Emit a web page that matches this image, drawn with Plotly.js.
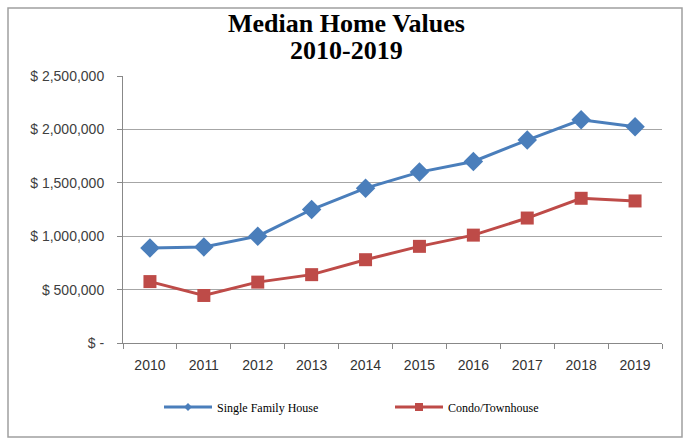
<!DOCTYPE html>
<html>
<head>
<meta charset="utf-8">
<script src="https://cdn.plot.ly/plotly-3.0.1.min.js"></script>
<style>
  html, body { margin: 0; padding: 0; background: #ffffff; }
  #chart { width: 689px; height: 439px; }
</style>
</head>
<body>
<div id="chart"></div>
<script>
const years = ['2010','2011','2012','2013','2014','2015','2016','2017','2018','2019'];
const singleFamily = [890000, 900000, 1000000, 1250000, 1450000, 1600000, 1700000, 1900000, 2090000, 2025000];
const condoTownhouse = [575000, 445000, 570000, 640000, 780000, 905000, 1010000, 1170000, 1355000, 1330000];
const yTickVals = [0, 500000, 1000000, 1500000, 2000000, 2500000];
const yTickText = ['$ -', '$ 500,000', '$ 1,000,000', '$ 1,500,000', '$ 2,000,000', '$ 2,500,000'];
const seriesNames = ['Single Family House', 'Condo/Townhouse'];
const titleLines = ['Median Home Values', '2010-2019'];

const blue = '#4a7ebb', red = '#be4b48';

const traces = [
  {
    x: years, y: singleFamily, name: seriesNames[0], showlegend: false,
    type: 'scatter', mode: 'lines+markers',
    line: { color: blue, width: 3 },
    marker: { symbol: 'diamond', size: 15, color: blue }
  },
  {
    x: years, y: condoTownhouse, name: seriesNames[1], showlegend: false,
    type: 'scatter', mode: 'lines+markers',
    line: { color: red, width: 3 },
    marker: { symbol: 'square', size: 13, color: red }
  },
  // legend-only entries with small markers, as in the reference
  {
    x: [null], y: [null], name: seriesNames[0],
    type: 'scatter', mode: 'lines+markers',
    line: { color: blue, width: 3 },
    marker: { symbol: 'diamond', size: 6, color: blue }
  },
  {
    x: [null], y: [null], name: seriesNames[1],
    type: 'scatter', mode: 'lines+markers',
    line: { color: red, width: 3 },
    marker: { symbol: 'square', size: 8, color: red }
  }
];

const titleFont = { family: 'Liberation Serif, serif', size: 26, color: '#000000', weight: 'bold' };
const titleX = (346 - 123) / 539;

const layout = {
  width: 689, height: 439,
  margin: { l: 123, r: 27, t: 76, b: 96 },
  paper_bgcolor: '#ffffff', plot_bgcolor: '#ffffff',
  xaxis: {
    type: 'category',
    tickson: 'boundaries',
    ticks: 'outside', ticklen: 5, tickcolor: '#888888',
    showline: true, linecolor: '#888888', linewidth: 1,
    showgrid: false,
    tickfont: { family: 'Liberation Sans, Arial, sans-serif', size: 14, color: '#333333' },
    ticklabelstandoff: 9,
    range: [-0.5, 9.5]
  },
  yaxis: {
    range: [0, 2500000],
    tickvals: yTickVals, ticktext: yTickText,
    ticks: 'outside', ticklen: 5, tickcolor: '#888888',
    showline: true, linecolor: '#888888', linewidth: 1,
    showgrid: true, gridcolor: '#a6a6a6', gridwidth: 1,
    zeroline: false,
    tickfont: { family: 'Liberation Sans, Arial, sans-serif', size: 14, color: '#404040' },
    ticklabelstandoff: 10
  },
  legend: {
    orientation: 'h', x: (159 - 123) / 539, xanchor: 'left', y: -64 / 267, yanchor: 'middle',
    font: { family: 'Liberation Serif, serif', size: 12, color: '#000000' },
    entrywidth: 168, entrywidthmode: 'pixels',
    itemwidth: 48, tracegroupgap: 0
  },
  showlegend: true,
  annotations: [
    { text: titleLines[0], xref: 'paper', yref: 'paper', x: titleX, y: 1 + (343 - 24 - 267) / 267,
      xanchor: 'center', yanchor: 'middle', showarrow: false, font: titleFont },
    { text: titleLines[1], xref: 'paper', yref: 'paper', x: titleX, y: 1 + (343 - 50 - 267) / 267,
      xanchor: 'center', yanchor: 'middle', showarrow: false, font: titleFont }
  ],
  shapes: [
    { type: 'rect', xref: 'paper', yref: 'paper',
      x0: -115 / 539, x1: 1 + 20 / 539, y0: -94 / 267, y1: 1 + 68 / 267,
      line: { color: '#a0a0a0', width: 1.5 }, fillcolor: 'rgba(0,0,0,0)' }
  ]
};

Plotly.newPlot('chart', traces, layout, { displayModeBar: false, staticPlot: true });
</script>
</body>
</html>
